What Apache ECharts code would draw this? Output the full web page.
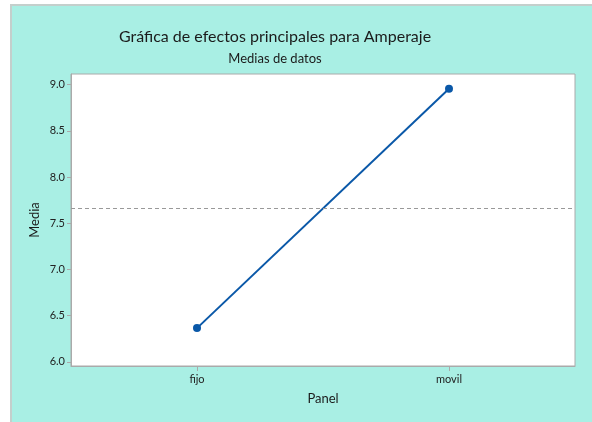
<!DOCTYPE html>
<html>
<head>
<meta charset="utf-8">
<script src="https://cdn.jsdelivr.net/npm/echarts@6/dist/echarts.min.js"></script>
<style>
  html, body { margin: 0; padding: 0; background: #fff; }
  #panel {
    position: absolute; left: 10px; top: 4px; width: 582px; height: 418px;
    background: #a9efe4; border-left: 2px solid #c4cfcc; border-top: 2px solid #c4cfcc;
    box-sizing: border-box;
  }
  #main { position: absolute; left: 0; top: 0; width: 592px; height: 422px; }
</style>
</head>
<body>
<div id="panel"></div>
<div id="main"></div>
<script>
const categories = ["fijo", "movil"];
const medias = [6.365, 8.955];
const mediaGeneral = 7.66;
const yTicks = [6.0, 6.5, 7.0, 7.5, 8.0, 8.5, 9.0];

const chart = echarts.init(document.getElementById("main"));

const fontFamily = "Lato, 'Open Sans', sans-serif";

chart.setOption({
  backgroundColor: "transparent",
  animation: false,
  title: [
    {
      text: "Gráfica de efectos principales para Amperaje",
      left: 270,
      top: 24,
      textAlign: "center",
      textStyle: { fontFamily, fontSize: 16, fontWeight: "normal", color: "#1b1b1b" }
    },
    {
      text: "Medias de datos",
      left: 270,
      top: 47,
      textAlign: "center",
      textStyle: { fontFamily, fontSize: 13, fontWeight: "normal", color: "#1b1b1b" }
    }
  ],
  grid: {
    left: 71,
    top: 74,
    right: 17,
    bottom: 56,
    show: true,
    backgroundColor: "#fff",
    borderColor: "#aaa",
    borderWidth: 1
  },
  xAxis: {
    type: "category",
    data: categories,
    boundaryGap: true,
    name: "Panel",
    nameLocation: "middle",
    nameGap: 26,
    nameMoveOverlap: false,
    nameTextStyle: { fontFamily, fontSize: 13, color: "#1b1b1b" },
    axisLine: { show: true, lineStyle: { color: "#aaa" } },
    axisTick: { show: true, alignWithLabel: true, length: 5, lineStyle: { color: "#aaa" } },
    axisLabel: { fontFamily, fontSize: 11, color: "#222", margin: 8 },
    splitLine: { show: false }
  },
  yAxis: {
    type: "value",
    min: 5.955,
    max: 9.115,
    name: "Media",
    nameLocation: "middle",
    nameGap: 30,
    nameMoveOverlap: false,
    nameTextStyle: { fontFamily, fontSize: 13, color: "#1b1b1b" },
    axisLine: { show: true, lineStyle: { color: "#aaa" } },
    axisTick: { show: true, length: 4, lineStyle: { color: "#aaa" }, customValues: yTicks },
    axisLabel: {
      fontFamily, fontSize: 11, color: "#222", margin: 6,
      customValues: yTicks,
      formatter: (v) => v.toFixed(1)
    },
    splitLine: { show: false }
  },
  series: [
    {
      type: "line",
      data: medias,
      symbol: "circle",
      symbolSize: 8,
      lineStyle: { color: "#0a58a8", width: 2 },
      itemStyle: { color: "#0a58a8" },
      markLine: {
        silent: true,
        symbol: "none",
        label: { show: false },
        lineStyle: { color: "#999", type: [4, 3], width: 1 },
        data: [{ yAxis: mediaGeneral }]
      }
    }
  ]
});
</script>
</body>
</html>
